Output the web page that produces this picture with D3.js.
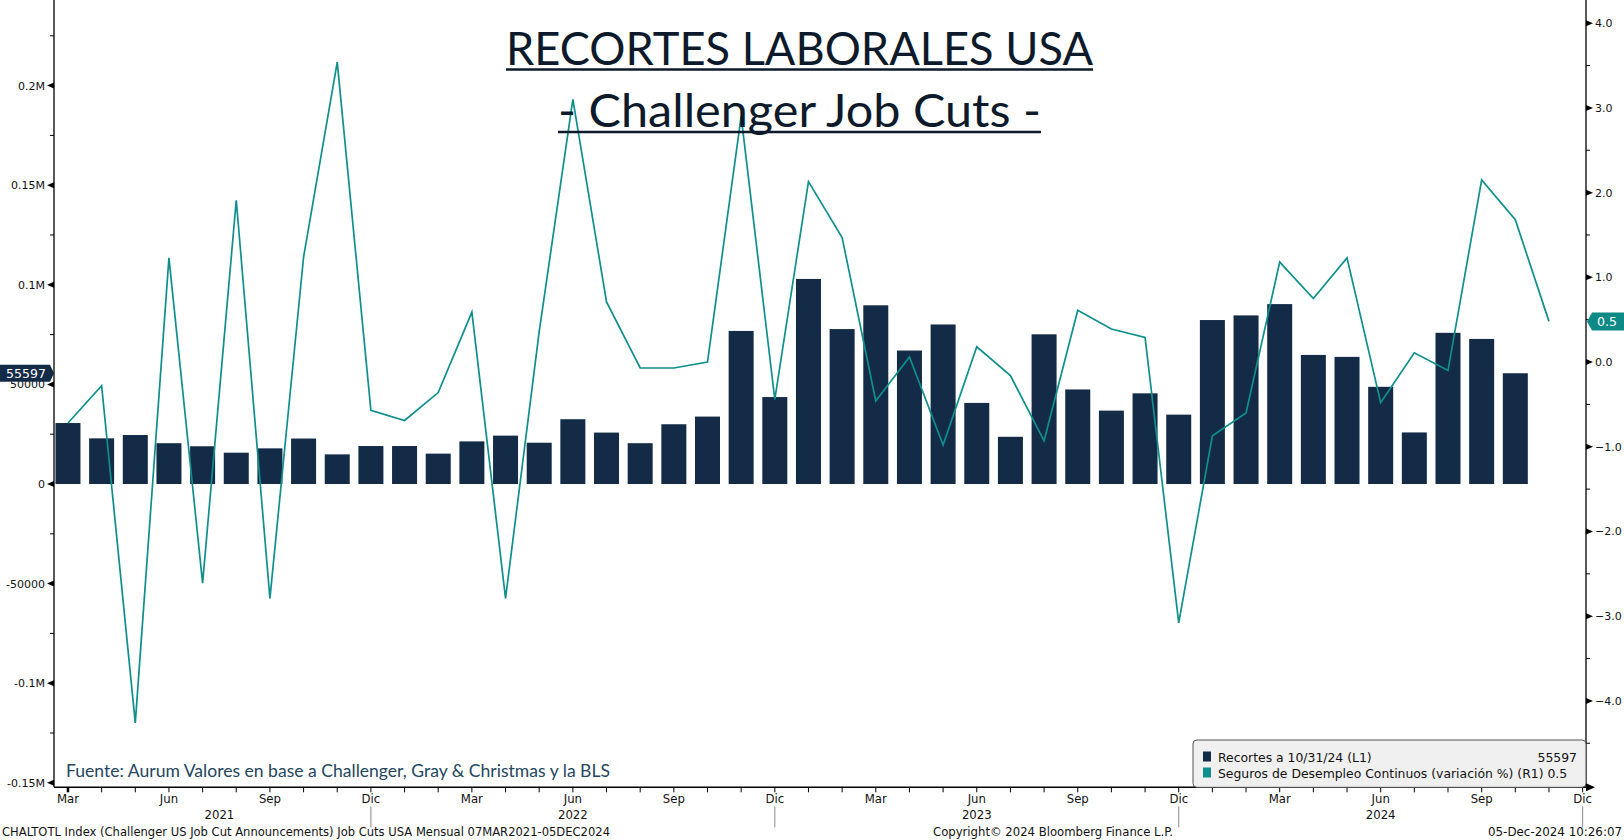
<!DOCTYPE html>
<html><head><meta charset="utf-8">
<script src="https://cdn.jsdelivr.net/npm/d3@7"></script>
<style>body{margin:0;background:#fff;}svg{display:block}</style>
</head><body>
<svg id="c" width="1624" height="840"></svg>
<script>
// ---------- DATA ----------
const monthNames = ["Ene","Feb","Mar","Abr","May","Jun","Jul","Ago","Sep","Oct","Nov","Dic"];
const firstYear = 2021, firstMonth = 2;          // Marzo 2021
const axisMonths = 46;                            // Mar 2021 .. Dic 2024
const labeledMonths = ["Mar","Jun","Sep","Dic"];
const years = [2021, 2022, 2023, 2024];

// Challenger job cuts (L1), Mar 2021 .. Oct 2024
const jobCuts = [30603,22913,24586,20476,18942,15723,17895,22822,14875,19052,
  19064,15245,21387,24286,20712,32517,25810,20485,29989,33843,76835,43651,
  102943,77770,89703,66995,80089,40709,23697,75151,47457,36836,45510,34817,
  82307,84638,90309,64789,63816,48786,25885,75891,72821,55597];

// Continuing claims % change (R1), Mar 2021 .. Nov 2024
const claimsChg = [-0.72,-0.28,-4.26,1.23,-2.61,1.91,-2.79,1.24,3.54,-0.57,
  -0.69,-0.36,0.59,-2.79,0.36,3.10,0.71,-0.07,-0.07,0.00,2.90,-0.44,
  2.13,1.47,-0.46,0.06,-0.98,0.18,-0.16,-0.93,0.61,0.39,0.29,-3.08,
  -0.87,-0.60,1.18,0.75,1.23,-0.48,0.11,-0.10,2.15,1.68,0.48];

const leftTicks = [-150000,-100000,-50000,0,50000,100000,150000,200000];
const leftTickLabels = ["-0.15M","-0.1M","-50000","0","50000","0.1M","0.15M","0.2M"];
const leftMinor = [-125000,-75000,-25000,25000,75000,125000,175000,225000];
const rightTicks = [-4,-3,-2,-1,0,1,2,3,4];
const rightMinor = [-4.5,-3.5,-2.5,-1.5,-0.5,0.5,1.5,2.5,3.5];

const titleLines = ["RECORTES LABORALES USA", "- Challenger Job Cuts -"];
const sourceText = "Fuente: Aurum Valores en base a Challenger, Gray & Christmas y la BLS";
const legendItems = [
  {label:"Recortes a 10/31/24 (L1)", value:"55597", color:"#132b47"},
  {label:"Seguros de Desempleo Continuos (variación %) (R1) 0.5", value:"", color:"#0f8f8c"}
];
const footerLeft = "CHALTOTL Index (Challenger US Job Cut Announcements) Job Cuts USA  Mensual 07MAR2021-05DEC2024";
const footerMid = "Copyright\u00A9 2024 Bloomberg Finance L.P.";
const footerRight = "05-Dec-2024 10:26:07";

// ---------- LAYOUT ----------
const W = 1624, H = 840;
const plotL = 54, plotR = 1586, plotT = 0, plotB = 787.3;
const barColor = "#132b47", lineColor = "#0f8f8c";

const svg = d3.select("#c");
svg.append("rect").attr("width",W).attr("height",H).attr("fill","#fff");

const x = d3.scaleLinear().domain([-0.415, 45.1]).range([plotL, plotR]);
const yL = d3.scaleLinear().domain([-152260, 242970]).range([plotB, plotT]);
const yR = d3.scaleLinear().domain([-5.02, 4.274]).range([plotB, plotT]);

const axisFont = "'DejaVu Sans', Verdana, sans-serif";
const narrowFont = "'DejaVu Sans Condensed','Liberation Sans Narrow','Liberation Sans',sans-serif";

// ---------- BARS ----------
const barW = 25;
svg.append("g").selectAll("rect").data(jobCuts).join("rect")
  .attr("x",(d,i)=>x(i)-barW/2)
  .attr("y",d=>Math.min(yL(d),yL(0)))
  .attr("width",barW)
  .attr("height",d=>Math.abs(yL(d)-yL(0)))
  .attr("fill",barColor);

// ---------- LINE ----------
const line = d3.line().x((d,i)=>x(i)).y(d=>yR(d));
svg.append("path").datum(claimsChg).attr("d",line)
  .attr("fill","none").attr("stroke",lineColor).attr("stroke-width",1.7)
  .attr("stroke-linejoin","miter");

// ---------- AXES ----------
const ax = svg.append("g");
// left axis
ax.append("line").attr("x1",plotL).attr("x2",plotL).attr("y1",plotT).attr("y2",plotB)
  .attr("stroke","#000").attr("stroke-width",1.3);
leftTicks.forEach((t,k)=>{
  const y = yL(t);
  ax.append("path").attr("d",`M${plotL},${y-3}L${plotL-7},${y}L${plotL},${y+3}Z`).attr("fill","#000");
  ax.append("text").attr("x",plotL-9).attr("y",y+4).attr("text-anchor","end")
    .attr("font-family",axisFont).attr("font-size",11).attr("fill","#111").text(leftTickLabels[k]);
});
leftMinor.forEach(t=>{
  const y = yL(t);
  ax.append("line").attr("x1",plotL-4).attr("x2",plotL).attr("y1",y).attr("y2",y).attr("stroke","#000");
});
// right axis
ax.append("line").attr("x1",plotR).attr("x2",plotR).attr("y1",plotT).attr("y2",plotB)
  .attr("stroke","#000").attr("stroke-width",1.3);
rightTicks.forEach(t=>{
  const y = yR(t);
  ax.append("path").attr("d",`M${plotR},${y-3}L${plotR+7},${y}L${plotR},${y+3}Z`).attr("fill","#000");
  ax.append("text").attr("x",plotR+9).attr("y",y+4)
    .attr("font-family",axisFont).attr("font-size",11).attr("fill","#111").text(d3.format(".1f")(t));
});
rightMinor.forEach(t=>{
  const y = yR(t);
  ax.append("line").attr("x1",plotR).attr("x2",plotR+4).attr("y1",y).attr("y2",y).attr("stroke","#000");
});
// bottom axis
ax.append("line").attr("x1",plotL).attr("x2",plotR).attr("y1",plotB).attr("y2",plotB)
  .attr("stroke","#000").attr("stroke-width",1.5);
ax.append("path").attr("d",`M${plotR},${plotB-4}L${plotR+9},${plotB}L${plotR},${plotB+4}Z`).attr("fill","#000");
const monthIdx = d3.range(axisMonths);
monthIdx.forEach(i=>{
  const mName = monthNames[(firstMonth+i)%12];
  const xi = x(i);
  ax.append("line").attr("x1",xi).attr("x2",xi).attr("y1",plotB).attr("y2",plotB+5)
    .attr("stroke","#000").attr("stroke-width", i===0?2.5:1);
  if (labeledMonths.includes(mName)) {
    ax.append("text").attr("x",xi).attr("y",plotB+15.5).attr("text-anchor","middle")
      .attr("font-family",narrowFont).attr("font-size",13).attr("fill","#111").text(mName);
  }
});
// year separators and labels
years.forEach((yr,k)=>{
  const decIdx = (yr-firstYear)*12 + 11 - firstMonth;
  const prevDec = decIdx - 12;
  const startX = prevDec < 0 ? x(0) : x(prevDec);
  const endX = x(decIdx);
  ax.append("line").attr("x1",endX).attr("x2",endX).attr("y1",plotB+19).attr("y2",plotB+40)
    .attr("stroke","#888").attr("stroke-width",1);
  ax.append("text").attr("x",(startX+endX)/2).attr("y",plotB+32).attr("text-anchor","middle")
    .attr("font-family",narrowFont).attr("font-size",13).attr("fill","#111").text(yr);
});

// ---------- VALUE TAGS ----------
const lastCut = jobCuts[jobCuts.length-1];
const lastChg = claimsChg[claimsChg.length-1];
{
  const y = yL(lastCut);
  svg.append("path").attr("d",`M0,${y-8.5}L50,${y-8.5}L54,${y}L50,${y+8.5}L0,${y+8.5}Z`).attr("fill",barColor);
  svg.append("text").attr("x",26).attr("y",y+4.5).attr("text-anchor","middle")
    .attr("font-family",axisFont).attr("font-size",12.5).attr("fill","#fff").text(d3.format("d")(lastCut));
}
{
  const y = yR(lastChg);
  svg.append("path").attr("d",`M${plotR+1},${y}L${plotR+6},${y-9}L${W},${y-9}L${W},${y+9}L${plotR+6},${y+9}Z`).attr("fill","#0e8a86");
  svg.append("text").attr("x",plotR+11).attr("y",y+4.5)
    .attr("font-family",axisFont).attr("font-size",12.5).attr("fill","#fff").text(d3.format(".1f")(lastChg));
}

// ---------- LEGEND ----------
const lg = svg.append("g");
lg.append("rect").attr("x",1193).attr("y",740).attr("width",393).attr("height",47.3).attr("rx",4)
  .attr("fill","#f0f0f0").attr("stroke","#555").attr("stroke-width",1);
legendItems.forEach((it,k)=>{
  const by = 761.5 + k*16;
  lg.append("rect").attr("x",1203).attr("y",by-10).attr("width",8).attr("height",10).attr("fill",it.color);
  lg.append("text").attr("x",1218).attr("y",by).attr("font-family",axisFont).attr("font-size",12.4)
    .attr("fill","#111").text(it.label);
  if (it.value) lg.append("text").attr("x",1577).attr("y",by).attr("text-anchor","end")
    .attr("font-family",axisFont).attr("font-size",12.4).attr("fill","#111").text(it.value);
});

// ---------- SOURCE ----------
svg.append("text").attr("x",66).attr("y",777).attr("font-family","Lato, 'Open Sans', sans-serif")
  .attr("font-size",16.5).attr("fill","#24465e").attr("textLength",544).attr("lengthAdjust","spacingAndGlyphs")
  .text(sourceText);

// ---------- TITLE ----------
const tg = svg.append("g").attr("fill","#0c1a2b");
const titleSpecs = [{y:65, x0:506, x1:1093, ul:69.5},{y:127, x0:558, x1:1041, ul:132}];
titleLines.forEach((t,k)=>{
  const s = titleSpecs[k];
  tg.append("text").attr("x",(s.x0+s.x1)/2).attr("y",s.y).attr("text-anchor","middle")
    .attr("font-family","Lato, 'Open Sans', sans-serif").attr("font-size",46)
    .attr("textLength",s.x1-s.x0).attr("lengthAdjust","spacingAndGlyphs").text(t);
  tg.append("line").attr("x1",s.x0).attr("x2",s.x1).attr("y1",s.ul).attr("y2",s.ul)
    .attr("stroke","#0c1a2b").attr("stroke-width",2.5);
});

// ---------- FOOTER ----------
const ff = narrowFont;
svg.append("text").attr("x",2).attr("y",836).attr("font-family",ff).attr("font-size",12.5).attr("fill","#111")
  .attr("textLength",608).attr("lengthAdjust","spacingAndGlyphs").text(footerLeft);
svg.append("text").attr("x",933).attr("y",836).attr("font-family",ff).attr("font-size",12.5).attr("fill","#111")
  .attr("textLength",240).attr("lengthAdjust","spacingAndGlyphs").text(footerMid);
svg.append("text").attr("x",1622).attr("y",836).attr("text-anchor","end").attr("font-family",ff).attr("font-size",12.5).attr("fill","#111")
  .attr("textLength",134).attr("lengthAdjust","spacingAndGlyphs").text(footerRight);
</script>
</body></html>
